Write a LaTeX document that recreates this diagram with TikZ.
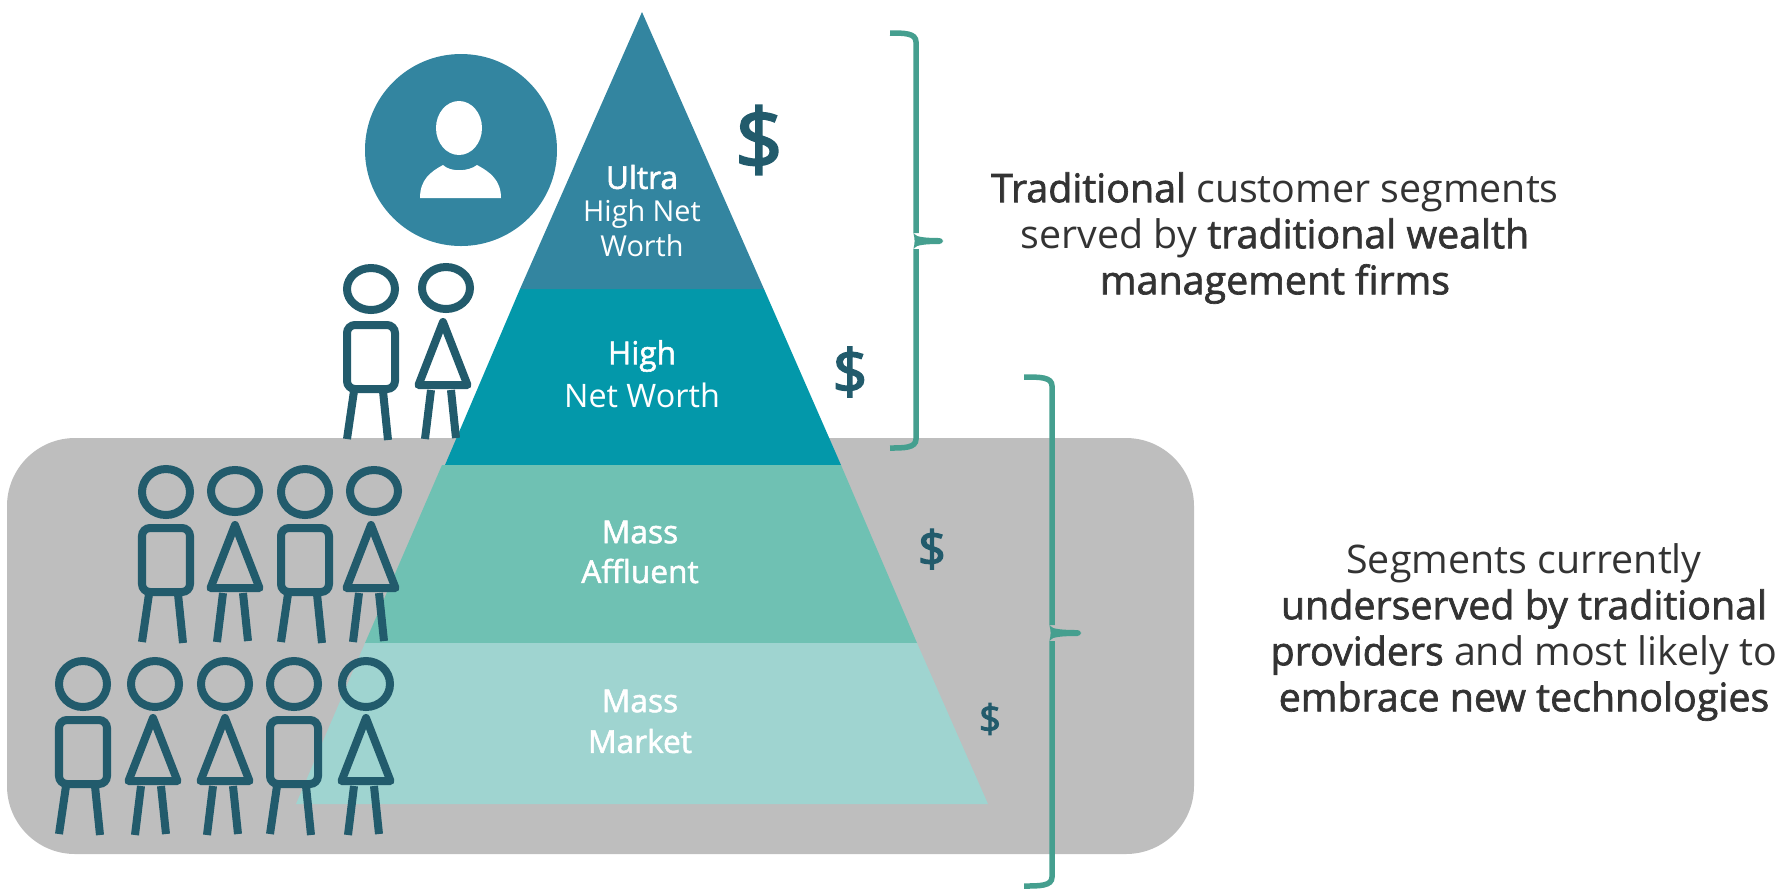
\documentclass[tikz,border=0pt]{standalone}
\usepackage{fontspec}
\setmainfont{Open Sans}[BoldFont={Open Sans},BoldFeatures={FakeBold=1.7}]
\newfontface\heavyface{Open Sans}[FakeBold=2.6]
\definecolor{ultrateal}{HTML}{3385A0}
\definecolor{highteal}{HTML}{0398AA}
\definecolor{affluentteal}{HTML}{6FC1B3}
\definecolor{marketteal}{HTML}{9FD4D0}
\definecolor{figteal}{HTML}{225B6C}
\definecolor{braceteal}{HTML}{459F8F}
\definecolor{bggray}{HTML}{BEBEBE}
\definecolor{sidetext}{HTML}{333333}

%man: x, y, head y radius
\newcommand{\manfig}[3]{
	\begin{scope}[shift={(#1,#2)}]
		\draw[figline] (0,0) ellipse [x radius=24, y radius=#3];
		\draw[figline,rounded corners=0.08cm] (-24,36) rectangle (24,100);
		\draw[figline] (-17,102) -- (-24,150);
		\draw[figline] (12,102) -- (17,151);
	\end{scope}
}
%woman: body x, head x, y, head y radius
\newcommand{\womanfig}[4]{
	\draw[figline] (#2,#3) ellipse [x radius=24, y radius=#4];
	\begin{scope}[shift={(#1,#3)}]
		\draw[figline,line join=round] (0,34) -- (24.5,97) -- (-24.5,97) -- cycle;
		\draw[figline] (-12,102) -- (-18,151);
		\draw[figline] (8,102) -- (13,150);
	\end{scope}
}
%brace: x, top y, middle y, bottom y, left x, tip x
\newcommand{\segbrace}[6]{
	\draw[bracepen] (#5,#2) .. controls (#1-12,#2) and (#1,#2) .. (#1,#2+9) -- (#1,#3-8) (#1,#3+8) -- (#1,#4-9) .. controls (#1,#4) and (#1-12,#4) .. (#5,#4);
	\fill[braceteal,rounded corners=1] (#1-3,#3-10) .. controls (#1,#3-4) and (#1+10,#3-3) .. (#6,#3-3) -- (#6,#3+3) .. controls (#1+10,#3+3) and (#1,#3+4) .. (#1-3,#3+10) -- (#1-1,#3) -- cycle;
}

\begin{document}
\begin{tikzpicture}[x=0.01cm,y=-0.01cm,
	figline/.style={draw=figteal,line width=0.08cm},
	bracepen/.style={draw=braceteal,line width=0.055cm},
	tierbig/.style={text=white,font=\fontsize{9}{13}\selectfont\bfseries},
	tiersmall/.style={text=white,font=\fontsize{8.2}{13}\selectfont},
	sidelabel/.style={text=sidetext,align=center,font=\fontsize{11.2}{13.1}\selectfont},
	dollar/.style={text=figteal,inner sep=0}]
	\useasboundingbox (0,0) rectangle (1781,890);

	%The gray panel
	\fill[bggray,rounded corners=0.68cm] (7,438) rectangle (1194,854);

	%The pyramid
	\fill[ultrateal] (642,12) -- (764,289) -- (520,289) -- cycle;
	\fill[highteal] (520,289) -- (764,289) -- (841,465) -- (445,465) -- cycle;
	\fill[affluentteal] (442,465) -- (841,465) -- (917,643) -- (365,643) -- cycle;
	\fill[marketteal] (365,643) -- (917,643) -- (988,804) -- (296,804) -- cycle;

	%The labels on the pyramid
	\node[tierbig] (ultra) at (642,177) {Ultra};
	\node[tiersmall] (ultranet) at (642,214) {High Net};
	\node[tiersmall] (ultraworth) at (642,246) {Worth};
	\node[tierbig] (high) at (642,356) {High};
	\node[tierbig,font=\fontsize{9.2}{13}\selectfont] (highnet) at (642,395) {Net Worth};
	\node[tierbig] (massa) at (640,532) {Mass};
	\node[tierbig] (affluent) at (640,571) {Affluent};
	\node[tierbig] (massm) at (640,701) {Mass};
	\node[tierbig] (market) at (640,741) {Market};

	%The dollars
	\node[dollar,font=\fontsize{24}{26}\heavyface] (dollarultra) at (759,140) {\$};
	\node[dollar,font=\fontsize{17.5}{20}\heavyface] (dollarhigh) at (850,372) {\$};
	\node[dollar,font=\fontsize{14}{16}\heavyface] (dollaraffluent) at (932,549) {\$};
	\node[dollar,font=\fontsize{11}{13}\heavyface] (dollarmarket) at (990,719) {\$};

	%The one client in the circle
	\fill[ultrateal] (461,150) circle [radius=96];
	\fill[white] (459,128) ellipse [x radius=23, y radius=27];
	\fill[white] (420,198) .. controls (420,180) and (430,172) .. (443,165) .. controls (450,172) and (468,172) .. (477,165) .. controls (490,172) and (501,180) .. (501,198) -- cycle;

	%The people, top row
	\manfig{371}{289}{21}
	\womanfig{443}{446}{288}{21}

	%The people, middle row
	\manfig{166}{492}{23}
	\womanfig{235}{235}{491}{21}
	\manfig{305}{492}{23}
	\womanfig{371}{374}{491}{21}

	%The people, bottom row
	\manfig{83}{684}{23}
	\womanfig{153}{155}{684}{23}
	\womanfig{225}{225}{684}{23}
	\manfig{294}{684}{23}
	\womanfig{366}{366}{684}{23}

	%The braces
	\segbrace{916}{33}{241}{448}{890}{943}
	\segbrace{1052}{377}{633}{886}{1024}{1081}

	%The text on the right
	\node[sidelabel] (traditional) at (1275,238) {\textbf{Traditional} customer segments\\served by \textbf{traditional wealth}\\\textbf{management firms}};
	\node[sidelabel] (underserved) at (1524,632) {Segments currently\\\textbf{underserved by traditional}\\\textbf{providers} and most likely to\\\textbf{embrace new technologies}};

\end{tikzpicture}
\end{document}
